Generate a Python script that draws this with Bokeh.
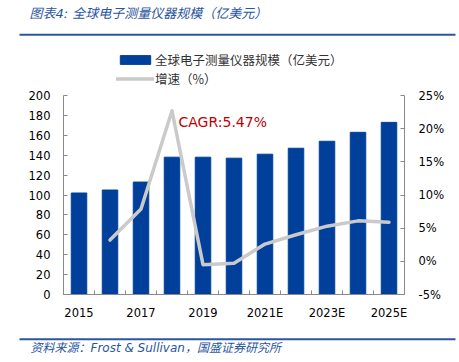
from bokeh.plotting import figure
from bokeh.models import (Range1d, LinearAxis, FixedTicker, PrintfTickFormatter,
                          Legend, LegendItem, Label)
from bokeh.layouts import column
from bokeh.embed import file_html
from bokeh.resources import INLINE
from bokeh.core.properties import value

# ---- data ----
years = ["2015", "2016", "2017", "2018", "2019", "2020", "2021E", "2022E", "2023E", "2024E", "2025E"]
market_size = [102, 105, 113, 138, 138, 137, 141, 147, 154, 163, 173]      # 亿美元
growth_years = ["2016", "2017", "2018", "2019", "2020", "2021E", "2022E", "2023E", "2024E", "2025E"]
growth_pct = [3.2, 7.9, 22.7, -0.5, -0.3, 2.6, 4.0, 5.3, 6.1, 5.9]          # %
x_tick_labels = ["2015", "2017", "2019", "2021E", "2023E", "2025E"]
left_ticks = [0, 20, 40, 60, 80, 100, 120, 140, 160, 180, 200]
right_ticks = [-5, 0, 5, 10, 15, 20, 25]
title_text = "图表4:  全球电子测量仪器规模（亿美元）"
source_text = "资料来源：Frost & Sullivan，国盛证券研究所"
bar_label = "全球电子测量仪器规模（亿美元）"
line_label = "增速（%）"
cagr_text = "CAGR:5.47%"

BLUE = "#00409A"
GRAY_LINE = "#CACACA"
HEAD_BLUE = "#2A56A0"
AXIS_GRAY = "#898989"
W = 459
CJK = "Noto Sans CJK SC"
NUM = "DejaVu Sans"
MIX = "DejaVu Sans, Noto Sans CJK SC"

# ---- header (title + rule) ----
HH = 40
head = figure(width=W, height=HH, x_range=Range1d(0, W), y_range=Range1d(HH, 0),
              x_axis_type=None, y_axis_type=None, frame_align=False,
              output_backend="svg", toolbar_location=None, min_border=0)
head.grid.visible = False
head.outline_line_color = None
head.text(x=[29], y=[13], text=[title_text], text_font=value(MIX), text_font_size="13px",
          text_font_style="italic", text_color=HEAD_BLUE, text_baseline="middle", text_align="left")
head.line(x=[19, 455], y=[34.3, 34.3], line_color=HEAD_BLUE, line_width=2)

# ---- main ----
idx = {y: i for i, y in enumerate(years)}
bar_x = [idx[y] for y in years]
line_x = [idx[y] for y in growth_years]

# frame spans page y 48..294; value axes only cover 0..200 / -5..25 (page y 95..294)
LEFT_MIN, LEFT_MAX = 0, 200
PCT_MIN, PCT_MAX = -5, 25
frame_px, axis_px = 246.0, 199.0
y_top = LEFT_MIN + (LEFT_MAX - LEFT_MIN) * frame_px / axis_px
pct_top = PCT_MIN + (PCT_MAX - PCT_MIN) * frame_px / axis_px

p = figure(width=W, height=288, x_range=Range1d(-0.5, len(years) - 0.5),
           y_range=Range1d(LEFT_MIN, y_top),
           output_backend="svg", toolbar_location=None, frame_align=False,
           min_border_top=8, min_border_bottom=34, min_border_left=63, min_border_right=55)
p.outline_line_color = None
p.grid.visible = False
p.extra_y_ranges = {"pct": Range1d(PCT_MIN, pct_top)}

bars = p.vbar(x=bar_x, top=market_size, width=0.5, bottom=0, fill_color=BLUE, line_color=BLUE)
gline = p.line(x=line_x, y=growth_pct, y_range_name="pct", line_color=GRAY_LINE, line_width=3.5,
               line_join="round", line_cap="round")

# x axis
xa = p.xaxis[0]
xa.ticker = FixedTicker(ticks=[idx[t] for t in x_tick_labels],
                        minor_ticks=[i - 0.5 for i in range(len(years) + 1)])
xa.major_label_overrides = {idx[t]: t for t in x_tick_labels}
xa.major_tick_in = 0
xa.major_tick_out = 0
xa.minor_tick_in = 4
xa.minor_tick_out = 0
xa.minor_tick_line_color = AXIS_GRAY
xa.axis_line_color = AXIS_GRAY
xa.major_label_text_font = NUM
xa.major_label_text_font_size = "11.5px"
xa.major_label_text_color = "#000000"
xa.major_label_standoff = 11

# left axis
ya = p.yaxis[0]
ya.ticker = FixedTicker(ticks=left_ticks, minor_ticks=[])
ya.bounds = (LEFT_MIN, LEFT_MAX)
ya.major_tick_in = 4
ya.major_tick_out = 0
ya.minor_tick_in = 0
ya.minor_tick_out = 0
ya.axis_line_color = AXIS_GRAY
ya.major_tick_line_color = AXIS_GRAY
ya.major_label_text_font = NUM
ya.major_label_text_font_size = "11.5px"
ya.major_label_text_color = "#000000"
ya.major_label_standoff = 13

# right axis
ra = LinearAxis(y_range_name="pct", ticker=FixedTicker(ticks=right_ticks, minor_ticks=[]),
                formatter=PrintfTickFormatter(format="%d%%"), bounds=(PCT_MIN, PCT_MAX))
ra.major_tick_in = 4
ra.major_tick_out = 0
ra.minor_tick_in = 0
ra.minor_tick_out = 0
ra.axis_line_color = AXIS_GRAY
ra.major_tick_line_color = AXIS_GRAY
ra.major_label_text_font = NUM
ra.major_label_text_font_size = "11.5px"
ra.major_label_text_color = "#000000"
ra.major_label_standoff = 14
p.add_layout(ra, "right")

# CAGR label
p.add_layout(Label(x=3.21, y=173, text=cagr_text, text_color="#C00000", text_font=NUM,
                   text_font_size="14px", text_baseline="middle", text_align="left"))

# legend (inside the frame, above the value axes)
legend = Legend(items=[LegendItem(label=bar_label, renderers=[bars]),
                       LegendItem(label=line_label, renderers=[gline])],
                location=(53, 206), orientation="vertical",
                glyph_width=38, glyph_height=11, label_height=16, label_standoff=1,
                spacing=0, padding=0, margin=0,
                label_text_font=CJK, label_text_font_size="12.5px", label_text_color="#333333",
                background_fill_alpha=0, border_line_alpha=0)
p.add_layout(legend, "center")

# ---- footer ----
FH = 34
foot = figure(width=W, height=FH, x_range=Range1d(0, W), y_range=Range1d(FH, 0),
              x_axis_type=None, y_axis_type=None, frame_align=False,
              output_backend="svg", toolbar_location=None, min_border=0)
foot.grid.visible = False
foot.outline_line_color = None
foot.line(x=[19, 455], y=[10.7, 10.7], line_color=HEAD_BLUE, line_width=2)
foot.text(x=[30], y=[19.5], text=[source_text], text_font=value(MIX), text_font_size="12px",
          text_font_style="italic", text_color=HEAD_BLUE, text_baseline="middle", text_align="left")

layout = column(head, p, foot, spacing=0)
open("out.html", "w").write(file_html(layout, INLINE))
